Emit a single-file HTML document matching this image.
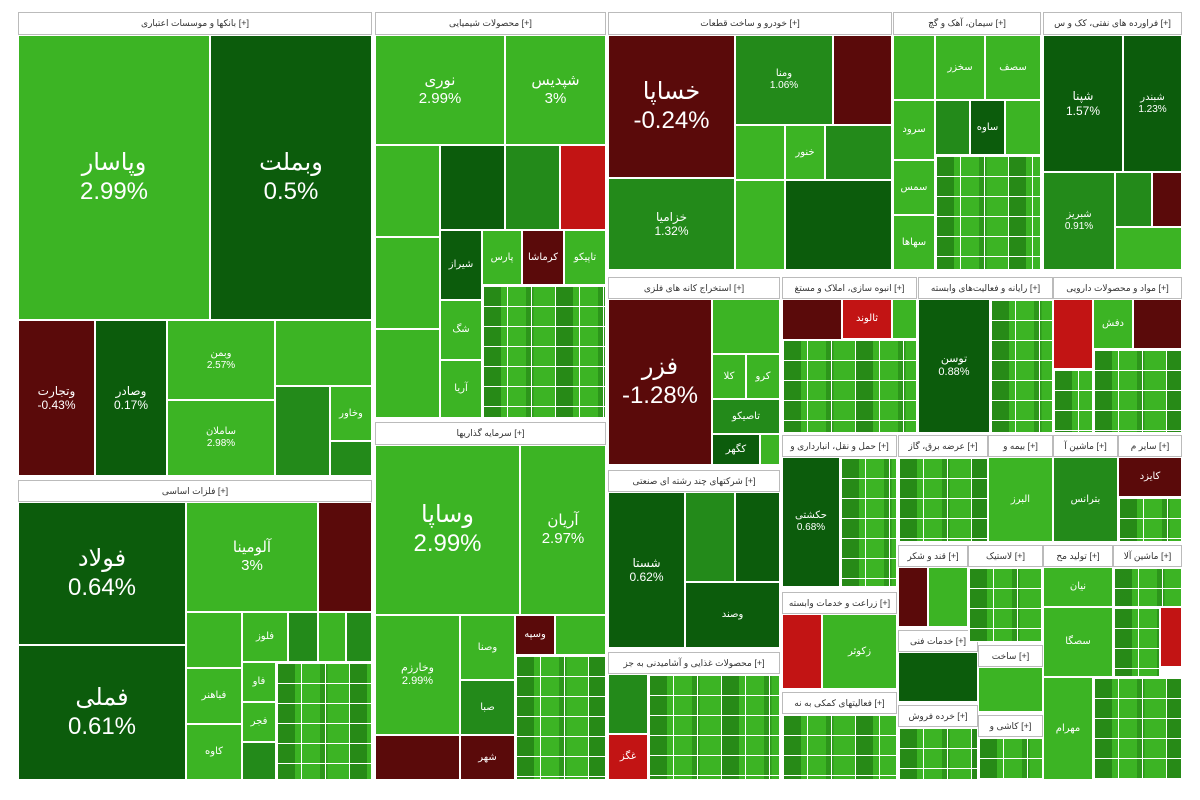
<!DOCTYPE html><html><head><meta charset="utf-8"><style>
body{margin:0;width:1200px;height:800px;background:#fff;position:relative;overflow:hidden;font-family:"Liberation Sans","DejaVu Sans",sans-serif}
div{position:absolute;box-sizing:border-box;border:1px solid #fff;color:#fff;display:flex;align-items:center;justify-content:center;text-align:center;font-size:10px;line-height:1.2;overflow:hidden}
.g{background:#3cb424}.m{background:#238a1a}.d{background:#0c5c0c}.r{background:#5a0a0a}.R{background:#c21414}
.l{background-color:#3cb424;background-image:linear-gradient(#fff 1px,transparent 1px),linear-gradient(90deg,#fff 1px,transparent 1px),linear-gradient(90deg,rgba(0,60,0,.35) 0 25%,transparent 25% 60%,rgba(0,60,0,.25) 60% 70%,transparent 70%);background-size:24px 20px,24px 20px,72px 40px}
.h{background:#fff;color:#333;border:1px solid #bbb;font-size:9px}
.b{font-size:24px}.c{font-size:15px}
</style></head><body>
<div class="h" style="left:18px;top:12px;width:354px;height:23px">بانکها و موسسات اعتباری [+]</div>
<div class="g b" style="left:18px;top:35px;width:192px;height:285px">وپاسار<br>2.99%</div>
<div class="d b" style="left:210px;top:35px;width:162px;height:285px">وبملت<br>0.5%</div>
<div class="r" style="left:18px;top:320px;width:77px;height:156px;font-size:12px">وتجارت<br>-0.43%</div>
<div class="d" style="left:95px;top:320px;width:72px;height:156px;font-size:12px">وصادر<br>0.17%</div>
<div class="g" style="left:167px;top:320px;width:108px;height:80px">وبمن<br>2.57%</div>
<div class="g" style="left:167px;top:400px;width:108px;height:76px">ساملان<br>2.98%</div>
<div class="g" style="left:275px;top:320px;width:97px;height:66px"></div>
<div class="m" style="left:275px;top:386px;width:55px;height:90px"></div>
<div class="g" style="left:330px;top:386px;width:42px;height:55px">وخاور</div>
<div class="m" style="left:330px;top:441px;width:42px;height:35px"></div>
<div class="h" style="left:18px;top:480px;width:354px;height:22px">فلزات اساسی [+]</div>
<div class="d b" style="left:18px;top:502px;width:168px;height:143px">فولاد<br>0.64%</div>
<div class="d b" style="left:18px;top:645px;width:168px;height:135px">فملی<br>0.61%</div>
<div class="g c" style="left:186px;top:502px;width:132px;height:110px">آلومینا<br>3%</div>
<div class="r" style="left:318px;top:502px;width:54px;height:110px"></div>
<div class="g" style="left:186px;top:612px;width:56px;height:56px"></div>
<div class="g" style="left:242px;top:612px;width:46px;height:50px">فلوز</div>
<div class="m" style="left:288px;top:612px;width:30px;height:50px"></div>
<div class="g" style="left:318px;top:612px;width:28px;height:50px"></div>
<div class="m" style="left:346px;top:612px;width:26px;height:50px"></div>
<div class="g" style="left:186px;top:668px;width:56px;height:56px">فباهنر</div>
<div class="g" style="left:186px;top:724px;width:56px;height:56px">کاوه</div>
<div class="g" style="left:242px;top:662px;width:34px;height:40px">فاو</div>
<div class="g" style="left:242px;top:702px;width:34px;height:40px">فجر</div>
<div class="m" style="left:242px;top:742px;width:34px;height:38px"></div>
<div class="l" style="left:276px;top:662px;width:96px;height:118px"></div>
<div class="h" style="left:375px;top:12px;width:231px;height:23px">محصولات شیمیایی [+]</div>
<div class="g c" style="left:375px;top:35px;width:130px;height:110px">نوری<br>2.99%</div>
<div class="g c" style="left:505px;top:35px;width:101px;height:110px">شپدیس<br>3%</div>
<div class="g" style="left:375px;top:145px;width:65px;height:92px"></div>
<div class="d" style="left:440px;top:145px;width:65px;height:85px"></div>
<div class="m" style="left:505px;top:145px;width:55px;height:85px"></div>
<div class="R" style="left:560px;top:145px;width:46px;height:85px"></div>
<div class="g" style="left:375px;top:237px;width:65px;height:92px"></div>
<div class="d" style="left:440px;top:230px;width:42px;height:70px">شیراز</div>
<div class="g" style="left:482px;top:230px;width:40px;height:55px">پارس</div>
<div class="r" style="left:522px;top:230px;width:42px;height:55px">کرماشا</div>
<div class="g" style="left:564px;top:230px;width:42px;height:55px">تاپیکو</div>
<div class="g" style="left:375px;top:329px;width:65px;height:89px"></div>
<div class="g" style="left:440px;top:300px;width:42px;height:60px">شگ</div>
<div class="g" style="left:440px;top:360px;width:42px;height:58px">آریا</div>
<div class="l" style="left:482px;top:285px;width:124px;height:133px"></div>
<div class="h" style="left:375px;top:422px;width:231px;height:23px">سرمایه گذاریها [+]</div>
<div class="g b" style="left:375px;top:445px;width:145px;height:170px">وساپا<br>2.99%</div>
<div class="g c" style="left:520px;top:445px;width:86px;height:170px">آریان<br>2.97%</div>
<div class="g" style="left:375px;top:615px;width:85px;height:120px;font-size:11px">وخارزم<br>2.99%</div>
<div class="r" style="left:375px;top:735px;width:85px;height:45px"></div>
<div class="g" style="left:460px;top:615px;width:55px;height:65px">وصنا</div>
<div class="m" style="left:460px;top:680px;width:55px;height:55px">صبا</div>
<div class="r" style="left:460px;top:735px;width:55px;height:45px">شهر</div>
<div class="r" style="left:515px;top:615px;width:40px;height:40px">وسپه</div>
<div class="l" style="left:515px;top:655px;width:91px;height:125px"></div>
<div class="g" style="left:555px;top:615px;width:51px;height:40px"></div>
<div class="h" style="left:608px;top:12px;width:284px;height:23px">خودرو و ساخت قطعات [+]</div>
<div class="r b" style="left:608px;top:35px;width:127px;height:143px">خساپا<br>-0.24%</div>
<div class="m" style="left:608px;top:178px;width:127px;height:92px;font-size:12px">خزامیا<br>1.32%</div>
<div class="m" style="left:735px;top:35px;width:98px;height:90px">ومنا<br>1.06%</div>
<div class="r" style="left:833px;top:35px;width:59px;height:90px"></div>
<div class="g" style="left:735px;top:125px;width:50px;height:55px"></div>
<div class="g" style="left:785px;top:125px;width:40px;height:55px">خنور</div>
<div class="m" style="left:825px;top:125px;width:67px;height:55px"></div>
<div class="g" style="left:735px;top:180px;width:50px;height:90px"></div>
<div class="d" style="left:785px;top:180px;width:107px;height:90px"></div>
<div class="h" style="left:608px;top:277px;width:172px;height:22px">استخراج کانه های فلزی [+]</div>
<div class="r b" style="left:608px;top:299px;width:104px;height:166px">فزر<br>-1.28%</div>
<div class="g" style="left:712px;top:299px;width:68px;height:55px"></div>
<div class="g" style="left:712px;top:354px;width:34px;height:45px">کلا</div>
<div class="g" style="left:746px;top:354px;width:34px;height:45px">کرو</div>
<div class="m" style="left:712px;top:399px;width:68px;height:35px">تاصیکو</div>
<div class="d" style="left:712px;top:434px;width:48px;height:31px">کگهر</div>
<div class="g" style="left:760px;top:434px;width:20px;height:31px"></div>
<div class="h" style="left:608px;top:470px;width:172px;height:22px">شرکتهای چند رشته ای صنعتی [+]</div>
<div class="d" style="left:608px;top:492px;width:77px;height:156px;font-size:12px">شستا<br>0.62%</div>
<div class="m" style="left:685px;top:492px;width:50px;height:90px"></div>
<div class="d" style="left:735px;top:492px;width:45px;height:90px"></div>
<div class="d" style="left:685px;top:582px;width:95px;height:66px">وصند</div>
<div class="h" style="left:608px;top:652px;width:172px;height:22px">محصولات غذایی و آشامیدنی به جز [+]</div>
<div class="m" style="left:608px;top:674px;width:40px;height:60px"></div>
<div class="R" style="left:608px;top:734px;width:40px;height:46px">غگز</div>
<div class="l" style="left:648px;top:674px;width:132px;height:106px"></div>
<div class="h" style="left:893px;top:12px;width:148px;height:23px">سیمان، آهک و گچ [+]</div>
<div class="g" style="left:893px;top:35px;width:42px;height:65px"></div>
<div class="g" style="left:935px;top:35px;width:50px;height:65px">سخزر</div>
<div class="g" style="left:985px;top:35px;width:56px;height:65px">سصف</div>
<div class="g" style="left:893px;top:100px;width:42px;height:60px">سرود</div>
<div class="m" style="left:935px;top:100px;width:35px;height:55px"></div>
<div class="d" style="left:970px;top:100px;width:35px;height:55px">ساوه</div>
<div class="g" style="left:1005px;top:100px;width:36px;height:55px"></div>
<div class="g" style="left:893px;top:160px;width:42px;height:55px">سمس</div>
<div class="g" style="left:893px;top:215px;width:42px;height:55px">سهاها</div>
<div class="l" style="left:935px;top:155px;width:106px;height:115px"></div>
<div class="h" style="left:1043px;top:12px;width:139px;height:23px">فراورده های نفتی، کک و س [+]</div>
<div class="d" style="left:1043px;top:35px;width:80px;height:137px;font-size:12px">شپنا<br>1.57%</div>
<div class="d" style="left:1123px;top:35px;width:59px;height:137px">شبندر<br>1.23%</div>
<div class="m" style="left:1043px;top:172px;width:72px;height:98px">شبریز<br>0.91%</div>
<div class="m" style="left:1115px;top:172px;width:37px;height:55px"></div>
<div class="r" style="left:1152px;top:172px;width:30px;height:55px"></div>
<div class="g" style="left:1115px;top:227px;width:67px;height:43px"></div>
<div class="h" style="left:782px;top:277px;width:135px;height:22px">انبوه سازی، املاک و مستغ [+]</div>
<div class="r" style="left:782px;top:299px;width:60px;height:50px"></div>
<div class="R" style="left:842px;top:299px;width:50px;height:40px">ثالوند</div>
<div class="g" style="left:892px;top:299px;width:25px;height:40px"></div>
<div class="l" style="left:782px;top:339px;width:135px;height:94px"></div>
<div class="h" style="left:918px;top:277px;width:135px;height:22px">رایانه و فعالیت‌های وابسته [+]</div>
<div class="d" style="left:918px;top:299px;width:72px;height:134px;font-size:11px">توسن<br>0.88%</div>
<div class="l" style="left:990px;top:299px;width:63px;height:134px"></div>
<div class="h" style="left:1053px;top:277px;width:129px;height:22px">مواد و محصولات دارویی [+]</div>
<div class="R" style="left:1053px;top:299px;width:40px;height:70px"></div>
<div class="g" style="left:1093px;top:299px;width:40px;height:50px">دفش</div>
<div class="r" style="left:1133px;top:299px;width:49px;height:50px"></div>
<div class="l" style="left:1093px;top:349px;width:89px;height:84px"></div>
<div class="l" style="left:1053px;top:369px;width:40px;height:64px"></div>
<div class="h" style="left:782px;top:435px;width:115px;height:22px">حمل و نقل، انبارداری و [+]</div>
<div class="d" style="left:782px;top:457px;width:58px;height:130px">حکشتی<br>0.68%</div>
<div class="l" style="left:840px;top:457px;width:57px;height:130px"></div>
<div class="h" style="left:898px;top:435px;width:90px;height:22px">عرضه برق، گاز [+]</div>
<div class="l" style="left:898px;top:457px;width:90px;height:85px"></div>
<div class="h" style="left:988px;top:435px;width:65px;height:22px">بیمه و [+]</div>
<div class="g" style="left:988px;top:457px;width:65px;height:85px">البرز</div>
<div class="h" style="left:1053px;top:435px;width:65px;height:22px">ماشین آ [+]</div>
<div class="m" style="left:1053px;top:457px;width:65px;height:85px">بترانس</div>
<div class="h" style="left:1118px;top:435px;width:64px;height:22px">سایر م [+]</div>
<div class="r" style="left:1118px;top:457px;width:64px;height:40px">کایزد</div>
<div class="l" style="left:1118px;top:497px;width:64px;height:45px"></div>
<div class="h" style="left:782px;top:592px;width:115px;height:22px">زراعت و خدمات وابسته [+]</div>
<div class="R" style="left:782px;top:614px;width:40px;height:75px"></div>
<div class="g" style="left:822px;top:614px;width:75px;height:75px">زکوثر</div>
<div class="h" style="left:782px;top:692px;width:115px;height:22px">فعالیتهای کمکی به نه [+]</div>
<div class="l" style="left:782px;top:714px;width:115px;height:66px"></div>
<div class="h" style="left:898px;top:545px;width:70px;height:22px">قند و شکر [+]</div>
<div class="r" style="left:898px;top:567px;width:30px;height:60px"></div>
<div class="g" style="left:928px;top:567px;width:40px;height:60px"></div>
<div class="h" style="left:898px;top:630px;width:80px;height:22px">خدمات فنی [+]</div>
<div class="d" style="left:898px;top:652px;width:80px;height:50px"></div>
<div class="h" style="left:898px;top:705px;width:80px;height:22px">خرده فروش [+]</div>
<div class="l" style="left:898px;top:727px;width:80px;height:53px"></div>
<div class="h" style="left:968px;top:545px;width:75px;height:22px">لاستیک [+]</div>
<div class="l" style="left:968px;top:567px;width:75px;height:75px"></div>
<div class="h" style="left:978px;top:645px;width:65px;height:22px">ساخت [+]</div>
<div class="g" style="left:978px;top:667px;width:65px;height:45px"></div>
<div class="h" style="left:978px;top:715px;width:65px;height:22px">کاشی و [+]</div>
<div class="l" style="left:978px;top:737px;width:65px;height:43px"></div>
<div class="h" style="left:1043px;top:545px;width:70px;height:22px">تولید مح [+]</div>
<div class="g" style="left:1043px;top:567px;width:70px;height:40px">نیان</div>
<div class="h" style="left:1113px;top:545px;width:69px;height:22px">ماشین آلا [+]</div>
<div class="l" style="left:1113px;top:567px;width:69px;height:40px"></div>
<div class="g" style="left:1043px;top:607px;width:70px;height:70px">سصگا</div>
<div class="R" style="left:1160px;top:607px;width:22px;height:60px"></div>
<div class="l" style="left:1113px;top:607px;width:47px;height:70px"></div>
<div class="g" style="left:1043px;top:677px;width:50px;height:103px">مهرام</div>
<div class="l" style="left:1093px;top:677px;width:89px;height:103px"></div>
</body></html>
